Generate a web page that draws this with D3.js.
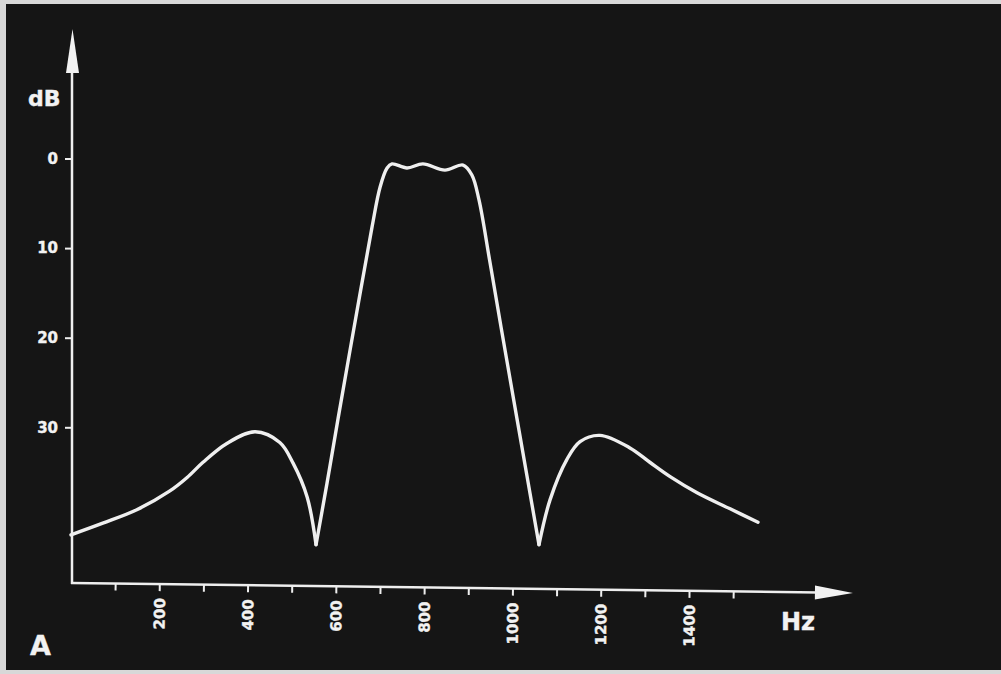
<!DOCTYPE html>
<html lang="en">
<head>
    <meta charset="UTF-8">
    <title>Filter response</title>
    <style>
        body{
            margin: 0;
            background: #d8d8d8;
        }
        .lbl{
            font-family: "DejaVu Sans", sans-serif;
            font-weight: bold;
            fill: #f2f2f2;
            stroke: #f2f2f2;
            stroke-width: 0.4px;
        }
    </style>
</head>
<body>
<script src="https://cdn.jsdelivr.net/npm/d3@7/dist/d3.min.js"></script>
<script>
    // frequency (Hz) and attenuation (dB, downward)
    var freq = [0, 72, 149, 224, 263, 299, 353, 417, 473, 503, 535, 555,
        580, 605, 655, 682, 700, 716, 727, 761, 797, 847, 888, 908, 924, 948, 974, 1010, 1060,
        1085, 1123, 1153, 1198, 1266, 1311, 1357, 1418, 1493, 1556];
    var atten = [42.0, 40.7, 39.2, 37.1, 35.6, 33.9, 31.8, 30.5, 31.7, 34.0, 37.8, 43.1,
        36.2, 29.0, 15.0, 7.6, 3.2, 1.06, 0.6, 1.06, 0.6, 1.3, 0.73, 1.84, 4.6, 11.3, 18.8, 29.0, 43.1,
        38.1, 33.6, 31.6, 30.9, 32.3, 33.9, 35.5, 37.3, 39.1, 40.6];
    var notchIdx = [11, 28];          // the curve has sharp cusps at these points
    var yTicks = [0, 10, 20, 30];
    var xTicks = d3.range(100, 1600, 100);

    var width = 1001, height = 674;
    var x0 = 72, y0 = 583;            // where the axes meet

    var svg = d3.select("body").append("svg")
        .attr("width", width)
        .attr("height", height);

    /* dark photo background */
    svg.append("rect")
        .attr("x", 6)
        .attr("y", 4)
        .attr("width", width - 6)
        .attr("height", 666)
        .attr("fill", "#151515");

    var x = d3.scaleLinear().domain([0, 1600]).range([71, 71 + 1600 * 0.4415]);
    var y = d3.scaleLinear().domain([0, 40]).range([158.5, 158.5 + 40 * 8.96]);

    /* y axis */
    var yAxis = svg.append("g")
        .attr("transform", "translate(" + x0 + ",0)")
        .call(d3.axisLeft(y).tickValues(yTicks).tickSize(7).tickPadding(7));
    yAxis.select(".domain").remove();
    yAxis.selectAll(".tick line").attr("stroke", "#eee").attr("stroke-width", 2);
    yAxis.selectAll(".tick text")
        .attr("class", "lbl")
        .attr("font-size", "15px")
        .attr("fill", "#f2f2f2");

    svg.append("line")
        .attr("x1", x0).attr("y1", y0 + 1)
        .attr("x2", x0).attr("y2", 70)
        .attr("stroke", "#eee")
        .attr("stroke-width", 2.5);
    svg.append("path")
        .attr("d", "M" + (x0 + 0.5) + ",29 L" + (x0 + 7) + ",73 L" + (x0 - 6) + ",73 Z")
        .attr("fill", "#f2f2f2");

    /* x axis, slightly tilted like the photo */
    var xg = svg.append("g")
        .attr("transform", "translate(0," + y0 + ") rotate(0.73," + x0 + ",0)");
    xg.call(d3.axisBottom(x).tickValues(xTicks).tickSize(7)
        .tickFormat(function (d) { return d % 200 === 0 ? d : ""; }));
    xg.select(".domain").remove();
    xg.selectAll(".tick line").attr("stroke", "#eee").attr("stroke-width", 2);
    xg.selectAll(".tick text")
        .attr("class", "lbl")
        .attr("font-size", "15px")
        .attr("fill", "#f2f2f2")
        .attr("text-anchor", "end")
        .attr("transform", "rotate(-90)")
        .attr("x", -14)
        .attr("y", 0)
        .attr("dy", "0.36em");

    xg.append("line")
        .attr("x1", x0 - 1).attr("y1", 0)
        .attr("x2", 818).attr("y2", 0)
        .attr("stroke", "#eee")
        .attr("stroke-width", 2.5);
    xg.append("path")
        .attr("d", "M853,0 L815,-7 L815,7 Z")
        .attr("fill", "#f2f2f2");

    /* texts */
    svg.append("text").attr("class", "lbl")
        .attr("x", 28).attr("y", 106)
        .attr("font-size", "22px")
        .text("dB");
    svg.append("text").attr("class", "lbl")
        .attr("x", 781).attr("y", 630)
        .attr("font-size", "24px")
        .text("Hz");
    svg.append("text").attr("class", "lbl")
        .attr("x", 30).attr("y", 655)
        .attr("font-size", "27px")
        .text("A");

    /* response curve, split at the notches */
    var pts = freq.map(function (f, i) { return [f, atten[i]]; });
    var cuts = [0].concat(notchIdx).concat([pts.length - 1]);
    var segs = [];
    for (var i = 0; i < cuts.length - 1; i++) {
        segs.push(pts.slice(cuts[i], cuts[i + 1] + 1));
    }

    var line = d3.line()
        .x(function (d) { return x(d[0]); })
        .y(function (d) { return y(d[1]); })
        .curve(d3.curveCatmullRom.alpha(0.5));

    svg.selectAll(".seg")
        .data(segs)
        .enter()
        .append("path")
        .attr("class", "seg")
        .attr("d", line)
        .attr("fill", "none")
        .attr("stroke", "#efefef")
        .attr("stroke-width", 3.4)
        .attr("stroke-linecap", "round")
        .attr("stroke-linejoin", "round");
</script>
</body>
</html>
